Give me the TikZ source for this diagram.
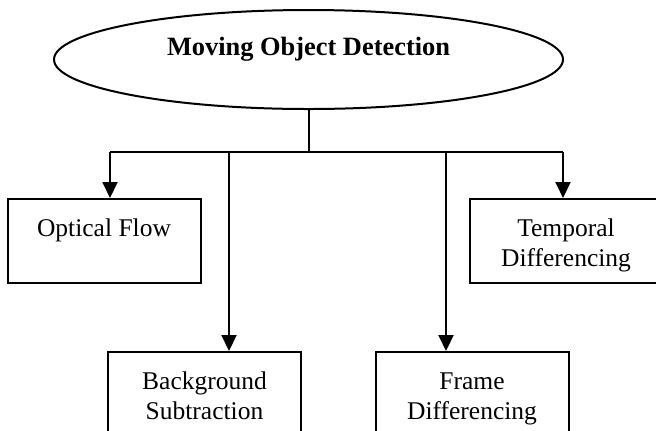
\documentclass[tikz,border=0pt]{standalone}
\usepackage{fontspec}
\setmainfont{Liberation Serif}
\usetikzlibrary{arrows.meta,shapes.geometric}
\newcommand{\tstrut}{\rule{0pt}{13.5pt}}
\newcommand{\bstrut}{\rule[-2.8pt]{0pt}{0pt}}

\begin{document}
\begin{tikzpicture}[x=.5pt,y=-.5pt,font=\fontsize{12.75}{15}\selectfont,
    >={Triangle[length=8pt,width=7.5pt]},line width=1pt,
    method/.style={draw,rectangle,minimum width=96.5pt,minimum height=42pt,
      inner sep=0pt,align=center},
    topic/.style={draw,ellipse,minimum width=254.5pt,minimum height=49.5pt,
      inner sep=0pt,align=center,font=\fontsize{13.2}{15}\selectfont\bfseries}]
  \useasboundingbox (0,0) rectangle (656,430);
  \clip (0,0) rectangle (656,430);

  % main topic
  \node[topic] (root) at (308.5,59.5) {\tstrut Moving Object Detection\\\bstrut};

  % methods
  \node[method] (optical) at (104,241) {\tstrut Optical Flow\\\bstrut};
  \node[method] (temporal) at (566,241) {\tstrut Temporal\\Differencing\bstrut};
  \node[method] (background) at (204.5,394) {\tstrut Background\\Subtraction\bstrut};
  \node[method] (frame) at (472,394) {\tstrut Frame\\Differencing\bstrut};

  % bus
  \coordinate (b1) at (110,152);
  \coordinate (b2) at (229,152);
  \coordinate (b3) at (446,152);
  \coordinate (b4) at (563,152);
  \draw (root.south) -- (root.south |- b1);
  \draw (b1) -- (b4);
  \draw[->] (b1) -- (b1 |- optical.north);
  \draw[->] (b2) -- (b2 |- background.north);
  \draw[->] (b3) -- (b3 |- frame.north);
  \draw[->] (b4) -- (b4 |- temporal.north);
\end{tikzpicture}
\end{document}
